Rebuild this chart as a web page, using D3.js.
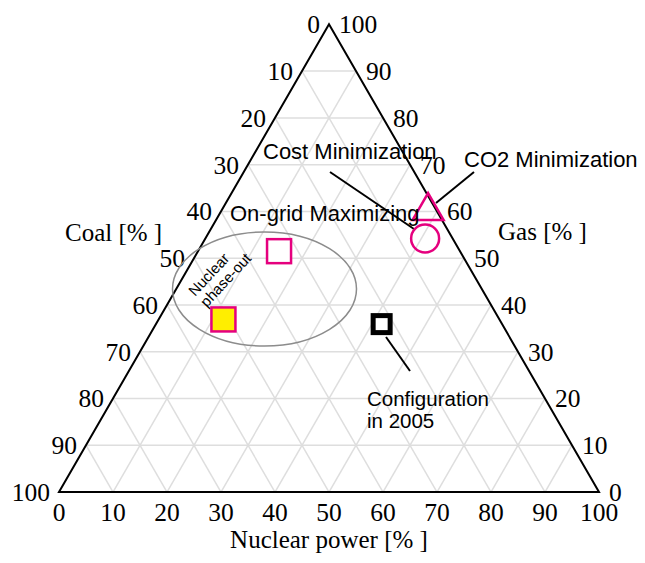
<!DOCTYPE html>
<html lang="en">
<head>
    <meta charset="UTF-8">
    <title>Ternary chart</title>
    <script src="https://cdn.jsdelivr.net/npm/d3@7/dist/d3.min.js"></script>
    <style>
        body { margin: 0; background: #fff; }
        .tick { font-family: "Liberation Serif", "Times New Roman", serif; font-size: 25.5px; }
        .title { font-family: "Liberation Serif", "Times New Roman", serif; font-size: 25px; }
        .note { font-family: "Liberation Sans", Arial, sans-serif; font-size: 22px; }
    </style>
</head>
<body>
<svg id="chart" width="645" height="563"></svg>
<script>
    // data
    let ticks = d3.range(0, 101, 10);
    let markerNames = ['Nuclear phase-out', 'On-grid Maximizing', 'CO2 Minimization', 'Cost Minimization', 'Configuration in 2005'];
    let nuclearShare = [12, 15, 38.3, 40.7, 41.8];
    let gasShare = [36.9, 51.5, 60.1, 54.2, 35.9];
    let coalShare = [51.1, 33.5, 1.6, 5.1, 22.3];

    let pink = '#e5007e';
    let svg = d3.select('#chart');

    // triangle geometry
    let side = 540;
    let x = d3.scaleLinear().domain([0, 100]).range([59, 59 + side]);
    let y = d3.scaleLinear().domain([0, 100]).range([492, 492 - side * Math.sqrt(3) / 2]);
    // position from (nuclear, gas) ; coal = 100 - nuclear - gas
    let proj = (n, g) => [x(n + g / 2), y(g)];

    // grid
    let grid = svg.append('g').attr('stroke', '#dedede').attr('stroke-width', 1.5);
    ticks.slice(1, -1).forEach(k => {
        let segs = [
            [proj(0, k), proj(100 - k, k)],        // gas const
            [proj(k, 0), proj(k, 100 - k)],        // nuclear const
            [proj(100 - k, 0), proj(0, 100 - k)]   // coal const
        ];
        segs.forEach(s => grid.append('line')
            .attr('x1', s[0][0]).attr('y1', s[0][1])
            .attr('x2', s[1][0]).attr('y2', s[1][1]));
    });

    // frame
    svg.append('path')
        .attr('d', d3.line()([proj(0, 0), proj(100, 0), proj(0, 100)]) + 'Z')
        .attr('fill', 'none').attr('stroke', '#000').attr('stroke-width', 2);

    // tick labels
    let lab = svg.append('g').attr('class', 'tick');
    ticks.forEach(c => {
        let p = proj(0, 100 - c);
        lab.append('text').attr('x', p[0] - 9).attr('y', p[1]).attr('dy', '0.35em')
            .attr('text-anchor', 'end').text(c);
    });
    ticks.forEach(g => {
        let p = proj(100 - g, g);
        lab.append('text').attr('x', p[0] + 10).attr('y', p[1]).attr('dy', '0.35em')
            .attr('text-anchor', 'start').text(g);
    });
    ticks.forEach(n => {
        let p = proj(n, 0);
        lab.append('text').attr('x', p[0]).attr('y', 521)
            .attr('text-anchor', 'middle').text(n);
    });

    // axis titles
    svg.append('text').attr('class', 'title').attr('x', 65).attr('y', 241).text('Coal [% ]');
    svg.append('text').attr('class', 'title').attr('x', 498).attr('y', 240).text('Gas [% ]');
    svg.append('text').attr('class', 'title').attr('x', 329).attr('y', 548)
        .attr('text-anchor', 'middle').text('Nuclear power [% ]');

    // nuclear phase-out ellipse
    svg.append('ellipse').attr('cx', 264.5).attr('cy', 289).attr('rx', 92).attr('ry', 57)
        .attr('fill', 'none').attr('stroke', '#8c8c8c').attr('stroke-width', 1.5);
    let np = svg.append('g').attr('class', 'note').style('font-size', '15px')
        .attr('transform', 'translate(195,297) rotate(-47)');
    np.append('text').attr('x', 0).attr('y', 0).text('Nuclear');
    np.append('text').attr('x', 0).attr('y', 16).text('phase-out');

    // leader lines
    let leaders = [
        [[330, 172], [414, 229]],
        [[474, 172], [436, 203]],
        [[386, 337], [410, 371]]
    ];
    leaders.forEach(l => svg.append('line')
        .attr('x1', l[0][0]).attr('y1', l[0][1]).attr('x2', l[1][0]).attr('y2', l[1][1])
        .attr('stroke', '#000').attr('stroke-width', 2));

    // markers
    let pts = markerNames.map((m, i) => ({ name: m, p: proj(nuclearShare[i], gasShare[i]) }));
    let sq = 24;
    svg.append('rect').attr('x', pts[0].p[0] - sq / 2).attr('y', pts[0].p[1] - sq / 2)
        .attr('width', sq).attr('height', sq)
        .attr('fill', '#ffee00').attr('stroke', pink).attr('stroke-width', 2.5);
    svg.append('rect').attr('x', pts[1].p[0] - sq / 2).attr('y', pts[1].p[1] - sq / 2)
        .attr('width', sq).attr('height', sq)
        .attr('fill', '#fff').attr('stroke', pink).attr('stroke-width', 2.5);
    let ts = 31, th = ts * Math.sqrt(3) / 2;
    let tp = pts[2].p;
    svg.append('path')
        .attr('d', d3.line()([[tp[0], tp[1] - th * 2 / 3], [tp[0] + ts / 2, tp[1] + th / 3], [tp[0] - ts / 2, tp[1] + th / 3]]) + 'Z')
        .attr('fill', 'none').attr('stroke', pink).attr('stroke-width', 2.5);
    svg.append('circle').attr('cx', pts[3].p[0]).attr('cy', pts[3].p[1]).attr('r', 14)
        .attr('fill', 'none').attr('stroke', pink).attr('stroke-width', 2.5);
    svg.append('rect').attr('x', pts[4].p[0] - 8.5).attr('y', pts[4].p[1] - 8.5)
        .attr('width', 17).attr('height', 17)
        .attr('fill', '#fff').attr('stroke', '#000').attr('stroke-width', 5);

    // annotation texts
    let notes = svg.append('g').attr('class', 'note');
    notes.append('text').attr('x', 263).attr('y', 159).text('Cost Minimization');
    notes.append('text').attr('x', 464).attr('y', 167).text('CO2 Minimization');
    notes.append('text').attr('x', 230).attr('y', 221).text('On-grid Maximizing');
    let cfg = notes.append('text').style('font-size', '20.5px');
    cfg.append('tspan').attr('x', 367).attr('y', 406).text('Configuration');
    cfg.append('tspan').attr('x', 367).attr('y', 428).text('in 2005');
</script>
</body>
</html>
